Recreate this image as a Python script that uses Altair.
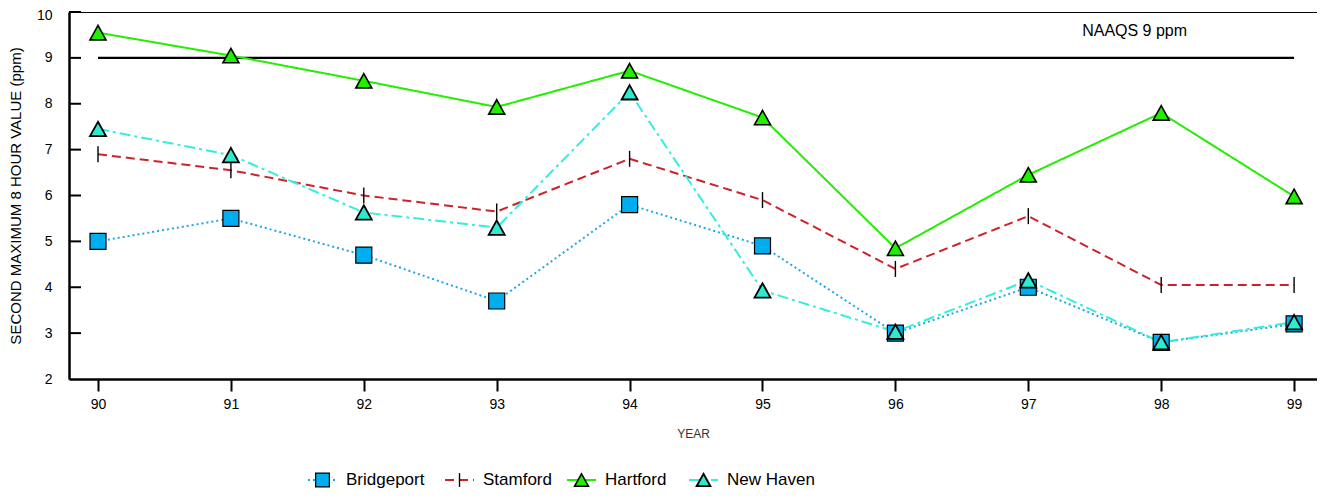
import altair as alt
import pandas as pd

# ---------------- data ----------------
years = [90, 91, 92, 93, 94, 95, 96, 97, 98, 99]
cities = ["Bridgeport", "Stamford", "Hartford", "New Haven"]
bridgeport = [5.0, 5.5, 4.7, 3.7, 5.8, 4.9, 3.0, 4.0, 2.8, 3.2]
stamford = [6.9, 6.55, 6.0, 5.65, 6.8, 5.9, 4.4, 5.55, 4.05, 4.05]
hartford = [9.55, 9.05, 8.5, 7.93, 8.72, 7.7, 4.85, 6.45, 7.8, 5.98]
new_haven = [7.45, 6.88, 5.63, 5.3, 8.25, 3.93, 3.03, 4.15, 2.8, 3.24]
series = [bridgeport, stamford, hartford, new_haven]

naaqs_level = [9]
naaqs_label = ["NAAQS 9 ppm"]
y_title = "SECOND MAXIMUM 8 HOUR VALUE (ppm)"
x_title = "YEAR"
y_major = [2, 3, 4, 5, 6, 7, 8, 9, 10]
y_minor = [2.5, 3.5, 4.5, 5.5, 6.5, 7.5, 8.5, 9.5]

# ---------------- styles ----------------
line_colors = ["#1AA7EC", "#CC2229", "#22EE00", "#33EEDD"]
fill_colors = ["#00AEEF", "#CC2229", "#22EE00", "#2EEBD0"]
dash_patterns = [[2, 3], [9, 5], [1, 0], [11, 4, 3, 4]]
marker_paths = ["M-1,-1H1V1H-1Z", "M0,-1V1", "M0,-0.9L1,0.9L-1,0.9Z", "M0,-0.9L1,0.9L-1,0.9Z"]
marker_strokes = [1.2, 1.8, 1.2, 1.2]

FONT = "Liberation Sans, Arial, sans-serif"

plot_w, plot_h = 1248, 367
px_per_year = 132.9
x_lo = years[0] - 29 / px_per_year
x_hi = x_lo + plot_w / px_per_year
y_lo, y_hi = 2, 10

# ---------------- tables ----------------
rows = []
for c, vals in zip(cities, series):
    for yr, v in zip(years, vals):
        rows.append({"city": c, "year": yr, "value": v})
df = pd.DataFrame(rows)

naaqs_df = pd.DataFrame({"year": [years[0]], "year_end": [years[-1]], "value": naaqs_level})
label_df = pd.DataFrame({"year": [97.8], "value": [9.59], "label": naaqs_label})
tick_df = pd.DataFrame({"value": y_major[1:]})


def px_to_year(px):
    return x_lo + px / px_per_year


leg_rows = []
pos = 239.0
for c in cities:
    leg_rows.append({
        "city": c,
        "year": px_to_year(pos),
        "year_end": px_to_year(pos + 29),
        "year_mid": px_to_year(pos + 14.5),
        "year_text": px_to_year(pos + 38),
    })
    pos += 40 + 7.5 * len(c) + 22
leg_df = pd.DataFrame(leg_rows)
legend_y = plot_h + 101

# ---------------- scales ----------------
x_scale = alt.Scale(domain=[x_lo, x_hi], nice=False, zero=False)
y_scale = alt.Scale(domain=[y_lo, y_hi], nice=False, zero=False)
color_scale = alt.Scale(domain=cities, range=line_colors)
fill_scale = alt.Scale(domain=cities, range=fill_colors)
dash_scale = alt.Scale(domain=cities, range=dash_patterns)
shape_scale = alt.Scale(domain=cities, range=marker_paths)
sw_scale = alt.Scale(domain=cities, range=marker_strokes)

x_axis = alt.Axis(values=years, format="d", title=x_title, grid=False,
                  tickSize=12, tickWidth=2, tickColor="black",
                  domainColor="black", domainWidth=2.5,
                  labelFont=FONT, labelFontSize=14, labelColor="black", labelPadding=6,
                  titleFont=FONT, titleFontSize=12, titleFontWeight="normal",
                  titleColor="#333333", titlePadding=17)
y_axis = alt.Axis(values=sorted(y_major + y_minor), title=y_title, grid=False,
                  labelExpr="datum.value % 1 === 0 ? datum.label : ''",
                  tickOpacity={"condition": {"test": "datum.value % 1 === 0", "value": 0}, "value": 1},
                  labelOffset={"condition": {"test": "datum.value === 10", "value": 3}, "value": 0},
                  tickSize=7, tickWidth=2, tickColor="black",
                  domainColor="black", domainWidth=2.5,
                  labelFont=FONT, labelFontSize=14, labelColor="black", labelPadding=10,
                  titleFont=FONT, titleFontSize=15, titleFontWeight="normal",
                  titleColor="black", titlePadding=13)

X = alt.X("year:Q", scale=x_scale, axis=x_axis)
Y = alt.Y("value:Q", scale=y_scale, axis=y_axis)

lines = alt.Chart(df).mark_line(strokeWidth=2).encode(
    x=X, y=Y,
    color=alt.Color("city:N", scale=color_scale, legend=None),
    strokeDash=alt.StrokeDash("city:N", scale=dash_scale, legend=None),
)

points = alt.Chart(df).mark_point(filled=True, stroke="black", opacity=1, size=256).encode(
    x="year:Q", y="value:Q",
    shape=alt.Shape("city:N", scale=shape_scale, legend=None),
    fill=alt.Fill("city:N", scale=fill_scale, legend=None),
    strokeWidth=alt.StrokeWidth("city:N", scale=sw_scale, legend=None),
)

naaqs = alt.Chart(naaqs_df).mark_rule(color="black", strokeWidth=2.2).encode(
    x="year:Q", x2="year_end:Q", y="value:Q"
)

naaqs_text = alt.Chart(label_df).mark_text(font=FONT, fontSize=16, color="black",
                                           align="center", baseline="middle").encode(
    x="year:Q", y="value:Q", text="label:N"
)

inner_ticks = alt.Chart(tick_df).mark_rule(color="black", strokeWidth=2).encode(
    y="value:Q", x=alt.value(0), x2=alt.value(12)
)

leg_lines = alt.Chart(leg_df).mark_rule(strokeWidth=2.2, clip=False).encode(
    x="year:Q", x2="year_end:Q", y=alt.value(legend_y),
    color=alt.Color("city:N", scale=color_scale, legend=None),
    strokeDash=alt.StrokeDash("city:N", scale=dash_scale, legend=None),
)
leg_points = alt.Chart(leg_df).mark_point(filled=True, stroke="black", opacity=1, size=190,
                                          clip=False).encode(
    x="year_mid:Q", y=alt.value(legend_y),
    shape=alt.Shape("city:N", scale=shape_scale, legend=None),
    fill=alt.Fill("city:N", scale=fill_scale, legend=None),
    strokeWidth=alt.StrokeWidth("city:N", scale=sw_scale, legend=None),
)
leg_text = alt.Chart(leg_df).mark_text(font=FONT, fontSize=17, color="black", align="left",
                                       baseline="middle", clip=False).encode(
    x="year_text:Q", y=alt.value(legend_y), text="city:N"
)

chart = alt.layer(
    naaqs, naaqs_text, inner_ticks, lines, points, leg_lines, leg_points, leg_text
).properties(
    width=plot_w, height=plot_h,
    autosize=alt.AutoSizeParams(type="none"),
    padding={"left": 61, "top": 4, "right": 0, "bottom": 115},
    view=alt.ViewBackground(stroke="black", strokeWidth=1),
).configure(background="white")

chart.save("out.html", embed_options={"renderer": "svg", "actions": False})
